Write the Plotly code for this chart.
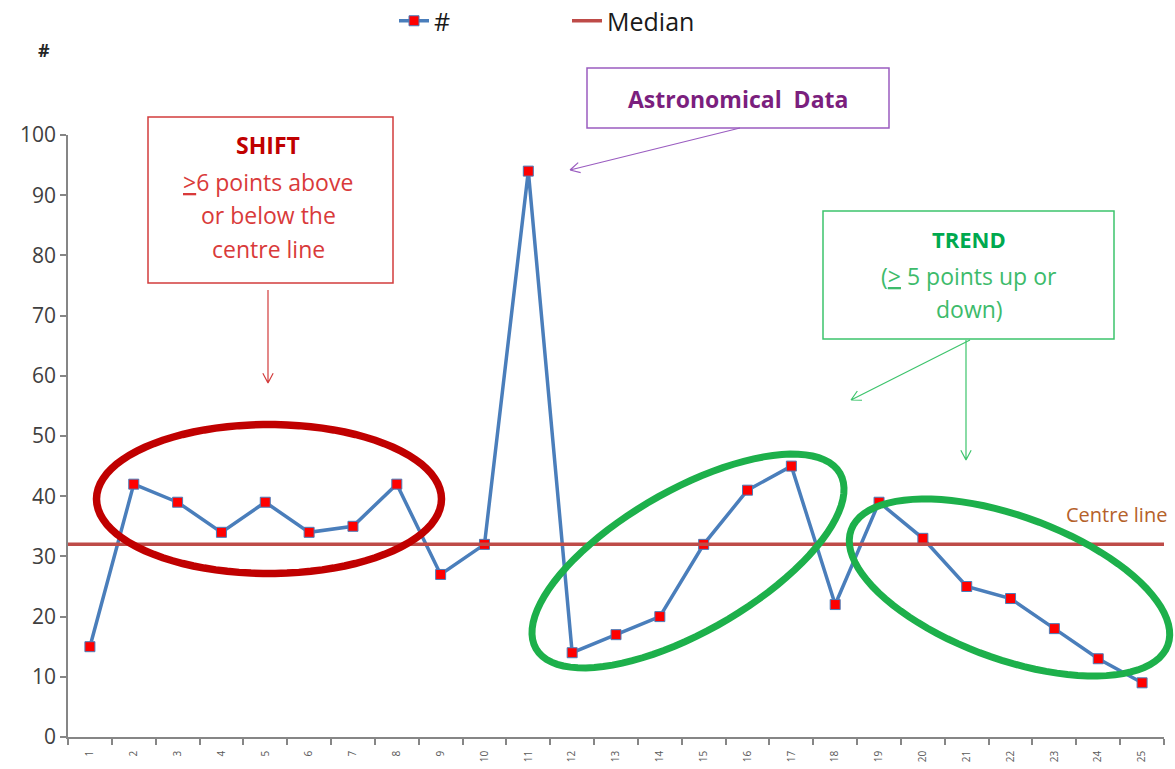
import math
import plotly.graph_objects as go

# Run chart values
samples = list(range(1, 26))
counts = [15, 42, 39, 34, 39, 34, 35, 42, 27, 32, 94, 14, 17, 20, 32, 41, 45,
          22, 39, 33, 25, 23, 18, 13, 9]
median_value = 32
tick_labels = [str(s) for s in samples]

FONT = "'Open Sans', Lato, sans-serif"
W, H = 1175, 769
ML, MR, MT, MB = 68, 11, 135, 32
PW, PH = W - ML - MR, H - MT - MB


def px(x):
    return (x - ML) / PW


def py(y):
    return (H - MB - y) / PH


def ellipse_path(cx, cy, a, b, angle_deg, n=90):
    th = math.radians(angle_deg)
    pts = []
    for i in range(n):
        t = 2 * math.pi * i / n
        x = cx + a * math.cos(t) * math.cos(th) - b * math.sin(t) * math.sin(th)
        y = cy + a * math.cos(t) * math.sin(th) + b * math.sin(t) * math.cos(th)
        pts.append(f"{px(x):.5f},{py(y):.5f}")
    return "M" + " L".join(pts) + " Z"


def arrow_path(x0, y0, x1, y1, head=11, spread=28):
    ang = math.atan2(y1 - y0, x1 - x0)
    segs = [f"M{px(x0):.5f},{py(y0):.5f} L{px(x1):.5f},{py(y1):.5f}"]
    for s in (-1, 1):
        a = ang + math.pi + s * math.radians(spread)
        hx, hy = x1 + head * math.cos(a), y1 + head * math.sin(a)
        segs.append(f"M{px(x1):.5f},{py(y1):.5f} L{px(hx):.5f},{py(hy):.5f}")
    return " ".join(segs)


def label(x, y, text, size, color, bold=False):
    if bold:
        text = f"<b>{text}</b>"
    return dict(x=px(x), y=py(y), xref="paper", yref="paper", showarrow=False,
                xanchor="center", yanchor="middle", text=text,
                font=dict(family=FONT, size=size, color=color))


fig = go.Figure()
fig.add_trace(go.Scatter(
    x=samples, y=counts, name="#", mode="lines+markers",
    line=dict(color="#4A7EBB", width=3.5),
    marker=dict(symbol="square", size=10, color="#FF0000",
                line=dict(color="#4A7EBB", width=1)),
))
fig.add_trace(go.Scatter(
    x=[0.5, 25.5], y=[median_value, median_value], name="Median", mode="lines",
    line=dict(color="#BE4B48", width=3.5),
))

RED_BOX, PURPLE_BOX, GREEN_BOX = "#D23C3C", "#9A5CC0", "#3DC46C"

shapes = []
# Rule boxes
shapes.append(dict(type="rect", xref="paper", yref="paper",
                   x0=px(148), x1=px(393), y0=py(117), y1=py(283),
                   line=dict(color=RED_BOX, width=1.5), fillcolor="white", layer="above"))
shapes.append(dict(type="rect", xref="paper", yref="paper",
                   x0=px(587), x1=px(889), y0=py(68), y1=py(128),
                   line=dict(color=PURPLE_BOX, width=1.5), fillcolor="white", layer="above"))
shapes.append(dict(type="rect", xref="paper", yref="paper",
                   x0=px(823), x1=px(1114), y0=py(211), y1=py(339),
                   line=dict(color=GREEN_BOX, width=1.5), fillcolor="white", layer="above"))
# Arrows
shapes.append(dict(type="path", xref="paper", yref="paper",
                   path=arrow_path(268, 290, 268, 383), line=dict(color=RED_BOX, width=1.2)))
shapes.append(dict(type="path", xref="paper", yref="paper",
                   path=arrow_path(740, 128, 570, 170), line=dict(color=PURPLE_BOX, width=1.2)))
shapes.append(dict(type="path", xref="paper", yref="paper",
                   path=arrow_path(970, 340, 851, 400), line=dict(color=GREEN_BOX, width=1.2)))
shapes.append(dict(type="path", xref="paper", yref="paper",
                   path=arrow_path(966, 340, 966, 460), line=dict(color=GREEN_BOX, width=1.2)))
# Highlight ellipses
shapes.append(dict(type="path", xref="paper", yref="paper",
                   path=ellipse_path(269, 499, 172.5, 74.5, 0),
                   line=dict(color="#C00000", width=7.5), layer="above"))
shapes.append(dict(type="path", xref="paper", yref="paper",
                   path=ellipse_path(688, 561, 175.5, 70.5, -30),
                   line=dict(color="#1DB04B", width=7), layer="above"))
shapes.append(dict(type="path", xref="paper", yref="paper",
                   path=ellipse_path(1009.5, 587.5, 168.5, 71.5, 20),
                   line=dict(color="#1DB04B", width=7), layer="above"))

annotations = [
    label(44, 50, "#", 18, "#262626", bold=True),
    # SHIFT rule
    label(268, 145, "SHIFT", 23, "#C00000", bold=True),
    label(268, 182, "<u>></u>6 points above", 23, "#D93A3A"),
    label(268, 215, "or below the", 23, "#D93A3A"),
    label(268, 249, "centre line", 23, "#D93A3A"),
    # Outlier
    label(738, 99, "Astronomical  Data", 23, "#7B1F7E", bold=True),
    # TREND rule
    label(969, 239, "TREND", 22, "#00A94F", bold=True),
    label(969, 276, "(<u>></u> 5 points up or", 23, "#3DBB6B"),
    label(969, 309, "down)", 23, "#3DBB6B"),
    # Median caption
    label(1116, 514, "Centre line", 20, "#B5612A"),
]

fig.update_layout(
    width=W, height=H,
    margin=dict(l=ML, r=MR, t=MT, b=MB, autoexpand=False),
    paper_bgcolor="white", plot_bgcolor="white",
    font=dict(family=FONT, color="#262626"),
    showlegend=True,
    legend=dict(orientation="h", x=px(394), y=py(21), xanchor="left", yanchor="middle",
                font=dict(family=FONT, size=25, color="#1A1A1A"),
                entrywidth=128, bgcolor="rgba(0,0,0,0)"),
    shapes=shapes,
    annotations=annotations,
    xaxis=dict(range=[0.5, 25.5], tickmode="array", tickvals=samples, ticktext=tick_labels,
               tickangle=-90, ticks="", showgrid=False, zeroline=False, automargin=False,
               showline=True, linecolor="#868686", linewidth=1.5,
               tickfont=dict(family=FONT, size=10, color="#595959"),
               ticklabelstandoff=8,
               minor=dict(tick0=0.5, dtick=1, ticks="outside", ticklen=6,
                          tickcolor="#868686", tickwidth=1.5, showgrid=False)),
    yaxis=dict(range=[0, 100], dtick=10, ticks="outside", ticklen=6, automargin=False,
               tickcolor="#868686", tickwidth=1.5, showgrid=False, zeroline=False,
               showline=True, linecolor="#868686", linewidth=1.5,
               tickfont=dict(family=FONT, size=21, color="#404040")),
)

fig.write_html("out.html")
